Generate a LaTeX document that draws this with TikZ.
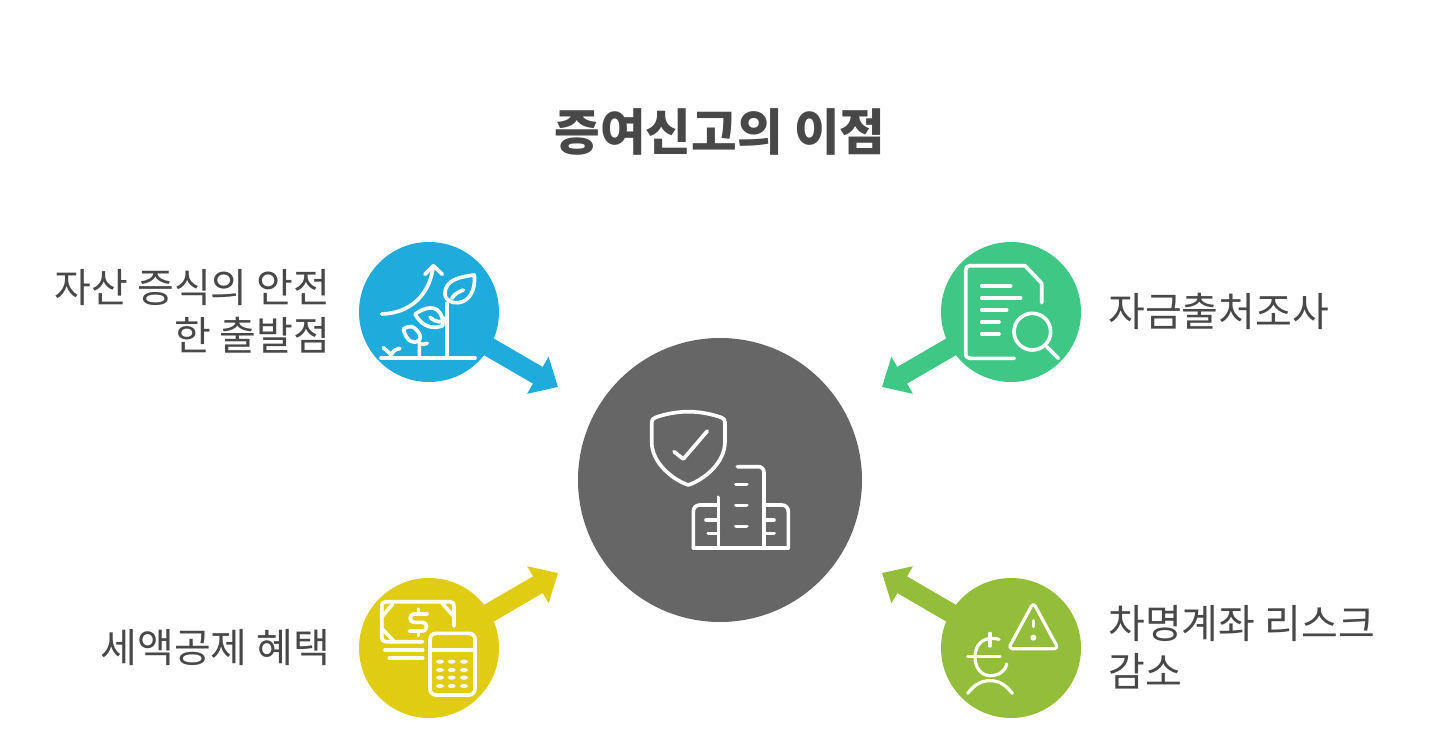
\documentclass[tikz,border=0pt]{standalone}
\usepackage{fontspec}
\setmainfont{Noto Sans CJK KR}
\usetikzlibrary{arrows.meta}
\definecolor{cblue}{HTML}{1FACDC}
\definecolor{cgreen}{HTML}{3FC785}
\definecolor{cyellow}{HTML}{E0CD13}
\definecolor{colive}{HTML}{94BE3A}
\definecolor{chub}{HTML}{666666}
\definecolor{ctext}{HTML}{484848}
\tikzset{
  disc/.style={circle,inner sep=0pt,minimum size=105pt,fill=#1,draw=none},
  hubdisc/.style={circle,inner sep=0pt,minimum size=213pt,fill=chub,draw=none},
  conn/.style={draw=#1,fill=#1,line width=14.5pt,shorten <=-6pt,-{Triangle[length=17.5pt,width=31pt]}},
  lab/.style={inner sep=0pt,text=ctext,font=\fontsize{30}{36}\selectfont},
  ttl/.style={inner sep=0pt,text=ctext,font=\fontsize{37.2}{45}\selectfont\bfseries},
  icon/.style={x=0.25pt,y=-0.25pt,white,line width=2.75pt,line cap=round,line join=round},
}
\begin{document}
\begin{tikzpicture}[x=0.75pt,y=-0.75pt]
\useasboundingbox (0,0) rectangle (1440,749);
\node[hubdisc] (hub) at (720,480) {};
\node[disc=cblue] (a) at (429,312) {};
\node[disc=cgreen] (b) at (1011,312) {};
\node[disc=cyellow] (c) at (429,648) {};
\node[disc=colive] (d) at (1011,648) {};
\coordinate (ta) at (558,387);
\coordinate (tb) at (882,387);
\coordinate (tc) at (558,573);
\coordinate (td) at (882,573);
\draw[conn=cblue] (a) -- (ta);
\draw[conn=cgreen] (b) -- (tb);
\draw[conn=cyellow] (c) -- (tc);
\draw[conn=colive] (d) -- (td);
\node[ttl,anchor=center] (title) at (720,132) {증여신고의 이점};
\node[lab,anchor=east,align=right] (la) at (330.5,311.5) {자산 증식의 안전\\한 출발점};
\node[lab,anchor=west,align=left] (lb) at (1108,311) {자금출처조사};
\node[lab,anchor=east,align=right] (lc) at (330.5,647.5) {세액공제 혜택};
\node[lab,anchor=west,align=left] (ld) at (1108,647) {차명계좌 리스크\\감소};
% blue icon
\begin{scope}[shift={(350,235)},icon]
\draw (93,369) -- (375,369);
\draw (95,237) .. controls (180,235) and (240,180) .. (250,92);
\draw (225,118) -- (250,92) -- (277,118);
\draw (373,120) .. controls (330,125) and (285,135) .. (285,175) .. controls (285,200) and (310,205) .. (325,203) .. controls (360,200) and (378,160) .. (373,120) -- cycle;
\draw (305,190) .. controls (315,175) and (328,170) .. (340,165);
\draw (290,369) -- (290,205);
\draw (195,238) .. controls (215,222) and (245,212) .. (262,225) .. controls (275,235) and (282,258) .. (278,272) .. controls (245,285) and (215,272) .. (195,238) -- cycle;
\draw (240,247) .. controls (255,262) and (280,268) .. (290,245);
\draw (160,282) .. controls (170,275) and (185,272) .. (192,278) .. controls (207,290) and (216,305) .. (208,315) .. controls (190,330) and (170,320) .. (160,282) -- cycle;
\draw (208,369) -- (208,325) .. controls (215,330) and (225,328) .. (232,325);
\draw (125,369) .. controls (125,355) and (112,350) .. (100,338);
\draw (125,358) .. controls (130,345) and (140,342) .. (150,340);
\end{scope}
% green icon
\begin{scope}[shift={(875,235)},icon]
\draw (500,203) -- (500,145) -- (450,92) -- (285,92) .. controls (277,92) and (272,97) .. (272,105) -- (272,355) .. controls (272,365) and (277,370) .. (285,370) -- (418,370);
\draw (320,153) -- (407,153);
\draw (320,189) -- (437,189);
\draw (320,225) -- (395,225);
\draw (320,261) -- (372,261);
\draw (320,297) -- (372,297);
\draw (472,290) circle[radius=55];
\draw (515,335) -- (550,370);
\end{scope}
% yellow icon
\begin{scope}[shift={(350,560)},icon]
\draw (312,198) -- (312,140) .. controls (312,130) and (308,125) .. (300,125) -- (108,125) .. controls (100,125) and (95,130) .. (95,140) -- (95,232) .. controls (95,240) and (100,245) .. (108,245) -- (218,245);
\draw (98,168) -- (128,132);
\draw (275,128) -- (310,168);
\draw (98,208) -- (130,242);
\draw (232,162) -- (195,162) .. controls (175,162) and (175,187) .. (195,187) -- (215,187) .. controls (235,187) and (235,213) .. (215,213) -- (178,213);
\draw (205,148) -- (205,162);
\draw (205,213) -- (205,226);
\draw (105,269) -- (218,269);
\draw (118,294) -- (218,294);
\draw[rounded corners=4.5pt] (240,220) rectangle (375,405);
\draw (240,270) -- (375,270);
\foreach \px in {270,305,342} \foreach \py in {305,330,353,378}
  \fill (\px,\py) ellipse[x radius=12,y radius=6];
\end{scope}
% olive icon
\begin{scope}[shift={(875,560)},icon,line width=2.4pt]
\draw[rounded corners=3pt] (475,128) -- (400,266) -- (550,266) -- cycle;
\draw (475,182) -- (475,200);
\fill (475,233) circle[radius=9];
\draw (372,238) .. controls (325,225) and (300,255) .. (300,290) .. controls (300,325) and (320,347) .. (345,347) .. controls (370,347) and (390,335) .. (395,312);
\draw (345,220) -- (345,258);
\draw (278,290) -- (375,290);
\draw (278,400) .. controls (300,372) and (320,362) .. (345,362) .. controls (370,362) and (390,372) .. (412,400);
\end{scope}
% hub icon
\begin{scope}[shift={(630,400)},icon]
\draw (175,35) .. controls (135,35) and (95,45) .. (75,53) .. controls (68,56) and (65,60) .. (65,68) -- (65,125) .. controls (65,190) and (130,240) .. (175,255) .. controls (220,240) and (285,190) .. (285,125) -- (285,68) .. controls (285,60) and (282,56) .. (275,53) .. controls (255,45) and (215,35) .. (175,35) -- cycle;
\draw (132,155) -- (160,177) -- (232,93);
\draw (322,200) -- (385,200) .. controls (395,200) and (402,207) .. (402,218) -- (402,440);
\draw (265,292) -- (265,440);
\draw (190,443) -- (475,443);
\draw (265,315) -- (210,315) .. controls (198,315) and (190,323) .. (190,335) -- (190,443);
\draw (402,315) -- (455,315) .. controls (467,315) and (475,323) .. (475,335) -- (475,443);
\draw (318,253) -- (350,253);
\draw (318,316) -- (350,316);
\draw (318,379) -- (350,379);
\draw (228,360) -- (265,360);
\draw (235,400) -- (265,400);
\draw (402,360) -- (432,360);
\draw (402,400) -- (432,400);
\end{scope}
\end{tikzpicture}
\end{document}
